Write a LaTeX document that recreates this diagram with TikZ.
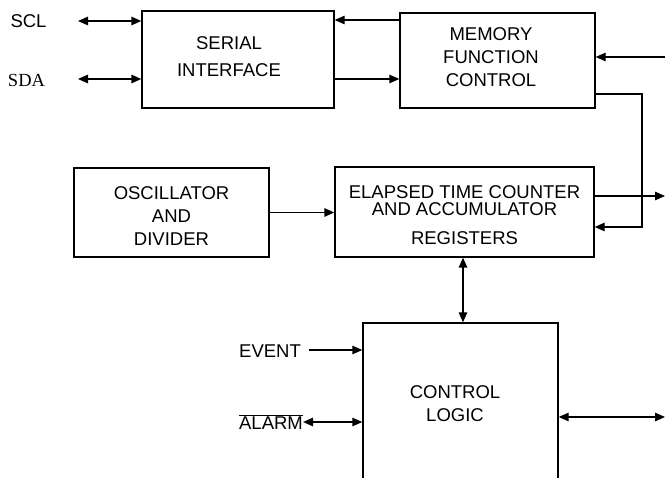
\documentclass[tikz,border=0pt]{standalone}
\usepackage{fontspec}
\setmainfont{Liberation Sans}
\newfontfamily\serifface{Liberation Serif}
\usetikzlibrary{arrows.meta}
\begin{document}
\begin{tikzpicture}[x=1pt,y=-1pt,
  every node/.style={font=\fontsize{18.5}{23}\selectfont},
  blk/.style={draw,line width=1.4pt,inner sep=0pt},
  tip/.style={},
  lnk/.style={line width=1.4pt,-{Triangle[length=10pt,width=8.5pt]}},
  dlnk/.style={line width=1.4pt,{Triangle[length=10pt,width=8.5pt]}-{Triangle[length=10pt,width=8.5pt]}},
  lbl/.style={inner sep=0pt,align=center}]
\useasboundingbox (0,0) rectangle (665,478);
\clip (0,0) rectangle (665,478);
% blocks
\node[blk,minimum width=192pt,minimum height=97pt] (serial) at (238,59.5) {};
\node[lbl] (serialt) at (229,56.5) {SERIAL\\[4pt]INTERFACE};
\node[blk,minimum width=195pt,minimum height=95pt] (memory) at (497.5,60.5) {};
\node[lbl] (memoryt) at (491,57) {MEMORY\\FUNCTION\\CONTROL};
\node[blk,minimum width=195pt,minimum height=89pt] (osc) at (171.5,212.5) {};
\node[lbl] (osct) at (171.5,216.5) {OSCILLATOR\\AND\\DIVIDER};
\node[blk,minimum width=259pt,minimum height=90pt] (etc) at (464.5,212) {};
\node[lbl] (etct) at (464.5,215.5) {ELAPSED TIME COUNTER\\[-6pt]AND ACCUMULATOR\\[6pt]REGISTERS};
\node[blk,minimum width=195pt,minimum height=180pt] (ctrl) at (460.5,413) {};
\node[lbl] (ctrlt) at (455,404) {CONTROL\\LOGIC};
% labels
\node[lbl] (scl) at (28.5,21) {SCL};
\node[lbl,font=\serifface\fontsize{18.5}{23}\selectfont] (sda) at (26.5,80) {SDA};
\node[lbl] (event) at (270,351) {EVENT};
\node[lbl] (alarm) at (271,422) {$\overline{\mbox{ALARM}}$};
% coordinates
\coordinate (sclL) at (78,21);
\coordinate (sdaL) at (78,79);
\coordinate (m1) at (0,20);
\coordinate (inR) at (665,57);
\coordinate (mo) at (0,94);
\coordinate (c1) at (642,94);
\coordinate (c2) at (642,227);
\coordinate (outR) at (665,196);
\coordinate (evL) at (309,350);
\coordinate (ctlR) at (665,417);
\coordinate (vx) at (463,0);
% connectors
\draw[dlnk] (sclL) -- (serial.west |- sclL);
\draw[dlnk] (sdaL) -- (serial.west |- sdaL);
\draw[lnk] (memory.west |- m1) -- (serial.east |- m1);
\draw[lnk] (serial.east |- sdaL) -- (memory.west |- sdaL);
\draw[lnk] (inR) -- (memory.east |- inR);
\draw[lnk] (memory.east |- mo) -- (c1) -- (c2) -- (etc.east |- c2);
\draw[lnk] (etc.east |- outR) -- (outR);
\draw[lnk] (osc.east) -- (etc.west |- osc.east);
\draw[dlnk] (etc.south -| vx) -- (ctrl.north -| vx);
\draw[lnk] (evL) -- (ctrl.west |- evL);
\draw[dlnk] (alarm.east) -- (ctrl.west |- alarm.east);
\draw[dlnk] (ctrl.east |- ctlR) -- (ctlR);
\end{tikzpicture}
\end{document}
